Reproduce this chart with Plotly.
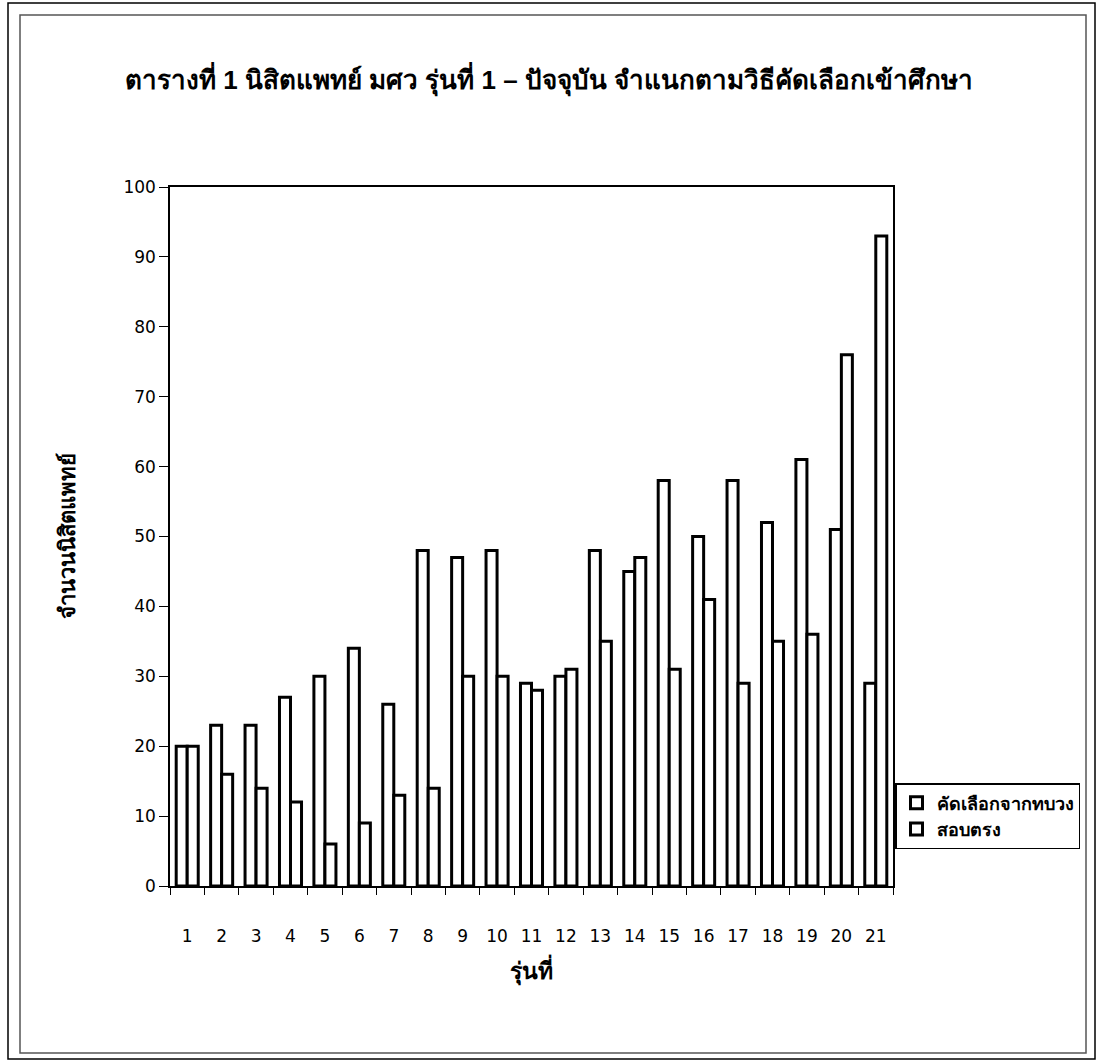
import plotly.graph_objects as go

categories = [str(i) for i in range(1, 22)]
selected_by_ministry = [20, 23, 23, 27, 30, 34, 26, 48, 47, 48, 29, 30, 48, 45, 58, 50, 58, 52, 61, 51, 29]
direct_exam = [20, 16, 14, 12, 6, 9, 13, 14, 30, 30, 28, 31, 35, 47, 31, 41, 29, 35, 36, 76, 93]
series_names = ["คัดเลือกจากทบวง", "สอบตรง"]
y_ticks = [0, 10, 20, 30, 40, 50, 60, 70, 80, 90, 100]

W, H = 1098, 1061
L, R, T, B = 170, 205, 187, 175
PW, PH = W - L - R, H - T - B

fig = go.Figure()
for name, vals in zip(series_names, [selected_by_ministry, direct_exam]):
    fig.add_trace(go.Bar(
        x=categories, y=vals, name="<b>" + name + "</b>",
        marker=dict(color="white", line=dict(color="black", width=3)),
    ))

fig.update_layout(
    width=W, height=H,
    paper_bgcolor="white", plot_bgcolor="white",
    margin=dict(l=L, r=R, t=T, b=B),
    barmode="group", bargap=0.36, bargroupgap=0,
    font=dict(family="DejaVu Sans, Arial, sans-serif", color="black"),
    title=dict(
        text="<b>ตารางที่ 1 นิสิตแพทย์ มศว รุ่นที่ 1 – ปัจจุบัน จำแนกตามวิธีคัดเลือกเข้าศึกษา</b>",
        x=0.5, xref="container", xanchor="center", y=1 - 80 / H, yanchor="middle",
        font=dict(size=26, color="black", family="Liberation Sans, Arial, sans-serif"),
    ),
    legend=dict(
        x=1 + 2 / PW, xanchor="left", y=(886 - 816) / PH, yanchor="middle",
        bordercolor="black", borderwidth=1.5, bgcolor="white",
        font=dict(size=18, color="black", family="Liberation Sans, Arial, sans-serif"),
        traceorder="normal", itemwidth=30, tracegroupgap=6,
    ),
    showlegend=True,
)
fig.update_xaxes(
    type="category", showline=True, linecolor="black", linewidth=1.5, mirror=True,
    ticks="outside", tickson="boundaries", ticklen=7, tickcolor="black",
    tickfont=dict(size=17), ticklabelstandoff=34,
    title=dict(text="<b>รุ่นที่</b>", font=dict(size=23, family="Liberation Sans, Arial, sans-serif"), standoff=18),
    showgrid=False,
)
fig.update_yaxes(
    range=[0, 100], tickvals=y_ticks, showline=True, linecolor="black", linewidth=1.5, mirror=True,
    ticks="outside", ticklen=9, tickcolor="black", tickfont=dict(size=17),
    title=dict(text="<b>จำนวนนิสิตแพทย์</b>", font=dict(size=22, family="Liberation Sans, Arial, sans-serif"), standoff=42),
    showgrid=False, zeroline=False,
)

def px_x(p):
    return (p - L) / PW

def px_y(p):
    return (H - B - p) / PH

fig.add_shape(type="rect", xref="paper", yref="paper",
              x0=px_x(20), x1=px_x(1086), y0=px_y(1053), y1=px_y(15),
              line=dict(color="#555555", width=1.5))
fig.add_shape(type="rect", xref="paper", yref="paper",
              x0=px_x(8), x1=px_x(1095), y0=px_y(1059), y1=px_y(3),
              line=dict(color="black", width=1.5))
fig.write_html("out.html", config={"displayModeBar": False},
               post_script="document.body.style.margin='0';")
